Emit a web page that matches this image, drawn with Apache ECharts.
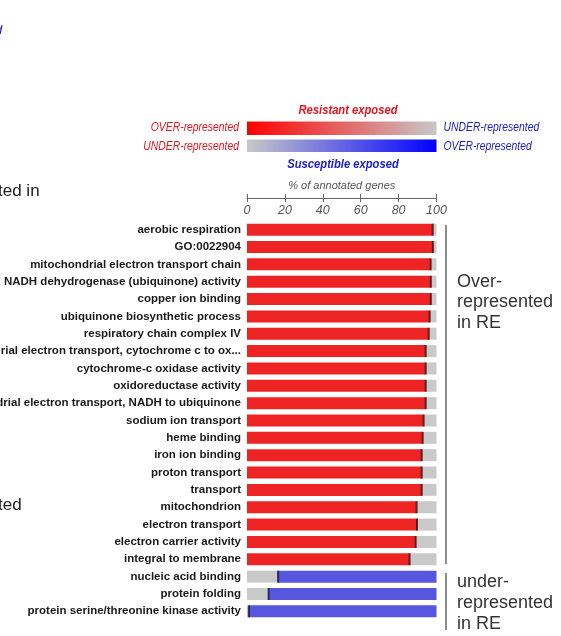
<!DOCTYPE html>
<html>
<head>
<meta charset="utf-8">
<script src="https://cdn.jsdelivr.net/npm/echarts@6/dist/echarts.min.js"></script>
<style>html,body{margin:0;padding:0;background:#fff}#c{width:561px;height:636px}</style>
</head>
<body>
<div id="c"></div>
<script>
const overTerms = ["aerobic respiration","GO:0022904","mitochondrial electron transport chain","NADH dehydrogenase (ubiquinone) activity","copper ion binding","ubiquinone biosynthetic process","respiratory chain complex IV","mitochondrial electron transport, cytochrome c to ox...","cytochrome-c oxidase activity","oxidoreductase activity","mitochondrial electron transport, NADH to ubiquinone","sodium ion transport","heme binding","iron ion binding","proton transport","transport","mitochondrion","electron transport","electron carrier activity","integral to membrane"];
const overValues = [98.0,98.1,96.9,97.0,97.0,96.4,95.9,94.3,94.3,94.3,94.3,93.2,92.7,92.2,92.2,92.2,89.5,89.7,89.0,85.8];
const underTerms = ["nucleic acid binding","protein folding","protein serine/threonine kinase activity"];
const underValues = [16.4,11.4,1.0];
const xTicks = [0,20,40,60,80,100];

const RED='#ee2424', GRAY='#c9c9c9', BLUE='#5656df';
const categories = overTerms.concat(underTerms);
const seg1 = overValues.map(v=>({value:v,itemStyle:{color:RED}})).concat(underValues.map(v=>({value:v,itemStyle:{color:GRAY}})));
const seg2 = overValues.map(v=>({value:100-v,itemStyle:{color:GRAY}})).concat(underValues.map(v=>({value:100-v,itemStyle:{color:BLUE}})));
const edges = overValues.map((v,i)=>({value:[v,i],itemStyle:{color:'#3a0808'}})).concat(underValues.map((v,i)=>({value:[v,overValues.length+i],itemStyle:{color:'#12124a'}})));

const sans = '"Liberation Sans",Arial,sans-serif';
const RTXT='#e4161e', BTXT='#2020c8';
const chart = echarts.init(document.getElementById('c'));
chart.setOption({
  animation:false,
  backgroundColor:'#ffffff',
  grid:{left:247,right:124.5,top:221,bottom:16,containLabel:false,outerBoundsMode:'none'},
  xAxis:[{
    type:'value',position:'top',min:0,max:100,interval:20,offset:23,
    axisLine:{show:true,lineStyle:{color:'#666',width:1}},
    axisTick:{show:true,inside:true,length:4,lineStyle:{color:'#666'}},
    splitLine:{show:false},
    axisLabel:{inside:true,margin:6,color:'#555',fontStyle:'italic',fontSize:12.5,fontFamily:sans,
      formatter:v=>xTicks.indexOf(v)>=0?String(v):''},
    name:'% of annotated genes',nameLocation:'middle',nameGap:7,
    nameTextStyle:{color:'#555',fontStyle:'italic',fontSize:11,fontFamily:sans}
  },{
    type:'value',position:'top',min:0,max:100,interval:20,offset:23,
    axisLine:{show:false},axisTick:{show:true,inside:false,length:4,lineStyle:{color:'#666'}},
    axisLabel:{show:false},splitLine:{show:false}
  }],
  yAxis:{
    type:'category',inverse:true,data:categories,
    axisLine:{show:false},axisTick:{show:false},
    axisLabel:{margin:6,color:'#1a1a1a',fontSize:11.5,fontWeight:'bold',fontFamily:sans}
  },
  series:[
    {type:'bar',stack:'a',barWidth:12,data:seg1,silent:true},
    {type:'bar',stack:'a',barWidth:12,data:seg2,silent:true},
    {type:'scatter',symbol:'rect',symbolSize:[2,12],data:edges,silent:true,z:5}
  ],
  graphic:[
    {type:'text',x:348,y:110,scaleX:0.83,style:{text:'Resistant exposed',fill:RTXT,font:'italic bold 13.5px '+sans,align:'center',verticalAlign:'middle'}},
    {type:'rect',shape:{x:247,y:121.5,width:189.5,height:13.5},style:{fill:new echarts.graphic.LinearGradient(0,0,1,0,[{offset:0,color:'#ff0000'},{offset:1,color:'#c8c8c8'}])}},
    {type:'rect',shape:{x:247,y:139.5,width:189.5,height:12.5},style:{fill:new echarts.graphic.LinearGradient(0,0,1,0,[{offset:0,color:'#c8c8c8'},{offset:1,color:'#0000ff'}])}},
    {type:'text',x:239,y:128,scaleX:0.83,style:{text:'OVER-represented',fill:RTXT,font:'italic 12.5px '+sans,align:'right',verticalAlign:'middle'}},
    {type:'text',x:239,y:146.5,scaleX:0.83,style:{text:'UNDER-represented',fill:RTXT,font:'italic 12.5px '+sans,align:'right',verticalAlign:'middle'}},
    {type:'text',x:443.5,y:128,scaleX:0.83,style:{text:'UNDER-represented',fill:BTXT,font:'italic 12.5px '+sans,align:'left',verticalAlign:'middle'}},
    {type:'text',x:443.5,y:146.5,scaleX:0.83,style:{text:'OVER-represented',fill:BTXT,font:'italic 12.5px '+sans,align:'left',verticalAlign:'middle'}},
    {type:'text',x:343,y:164.5,scaleX:0.83,style:{text:'Susceptible exposed',fill:BTXT,font:'italic bold 13.5px '+sans,align:'center',verticalAlign:'middle'}},
    {type:'line',shape:{x1:446,y1:225,x2:446,y2:564},style:{stroke:'#666',lineWidth:1.5}},
    {type:'line',shape:{x1:446,y1:573,x2:446,y2:630},style:{stroke:'#666',lineWidth:1.5}},
    {type:'text',x:457,y:271.5,style:{text:'Over-\nrepresented\nin RE',fill:'#333',font:'18px '+sans,lineHeight:20.5}},
    {type:'text',x:457,y:571.5,style:{text:'under-\nrepresented\nin RE',fill:'#333',font:'18px '+sans,lineHeight:21}},
    {type:'text',x:-2,y:183,style:{text:'ted in',fill:'#222',font:'17px '+sans}},
    {type:'text',x:-2,y:497,style:{text:'ted',fill:'#222',font:'17px '+sans}},
    {type:'text',x:-5,y:24,style:{text:'d',fill:BTXT,font:'italic 13px '+sans}}
  ]
});
</script>
</body>
</html>
